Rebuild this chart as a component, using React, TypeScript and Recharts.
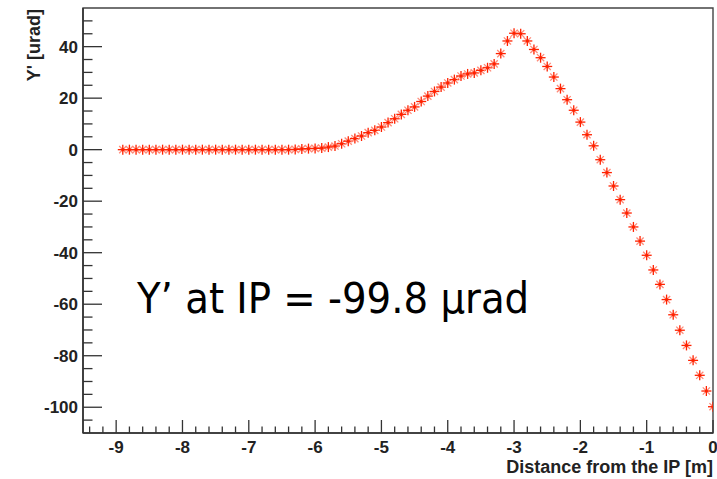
import React from 'react';
import { ScatterChart, Scatter, XAxis, YAxis, ReferenceArea } from 'recharts';

// distance from the interaction point [m]
const distance = [
  -8.9, -8.8, -8.7, -8.6, -8.5, -8.4, -8.3, -8.2, -8.1, -8.0,
  -7.9, -7.8, -7.7, -7.6, -7.5, -7.4, -7.3, -7.2, -7.1, -7.0,
  -6.9, -6.8, -6.7, -6.6, -6.5, -6.4, -6.3, -6.2, -6.1, -6.0,
  -5.9, -5.8, -5.7, -5.6, -5.5, -5.4, -5.3, -5.2, -5.1, -5.0,
  -4.9, -4.8, -4.7, -4.6, -4.5, -4.4, -4.3, -4.2, -4.1, -4.0,
  -3.9, -3.8, -3.7, -3.6, -3.5, -3.4, -3.3, -3.2, -3.1, -3.0,
  -2.9, -2.8, -2.7, -2.6, -2.5, -2.4, -2.3, -2.2, -2.1, -2.0,
  -1.9, -1.8, -1.7, -1.6, -1.5, -1.4, -1.3, -1.2, -1.1, -1.0,
  -0.9, -0.8, -0.7, -0.6, -0.5, -0.4, -0.3, -0.2, -0.1, 0,
];

// Y' angle [urad]
const yPrime = [
  0, 0, 0, 0, 0, 0, 0, 0, 0, 0,
  0, 0, 0, 0, 0, 0, 0, 0, 0, 0,
  0, 0, 0, 0, 0, 0, 0.1, 0.3, 0.4, 0.5,
  0.6, 1.0, 1.4, 2.3, 3.3, 4.3, 5.3, 6.6, 7.5, 8.8,
  10.5, 12.0, 13.7, 15.3, 16.6, 18.7, 20.8, 22.6, 24.3, 25.9,
  27.2, 28.6, 29.4, 29.8, 30.8, 31.8, 33.3, 37.3, 42.2, 45.2,
  45.0, 42.2, 38.9, 35.7, 32.3, 28.2, 23.7, 19.4, 15.3, 10.7,
  5.8, 1.5, -3.9, -8.9, -14.1, -19.4, -24.6, -30.0, -35.5, -41.0,
  -46.7, -52.3, -58.2, -64.1, -70.1, -76.0, -81.8, -87.6, -93.7, -99.8,
];

const xMajorTicks = [-9, -8, -7, -6, -5, -4, -3, -2, -1, 0];
const yMajorTicks = [-100, -80, -60, -40, -20, 0, 20, 40];

const X_MIN = -9.5;
const X_MAX = 0;
const Y_MIN = -110;
const Y_MAX = 55;

// minor ticks every 0.2 m and every 5 urad
const xTicks: number[] = [];
for (let v = -94; v <= 0; v += 2) xTicks.push(v / 10);
const yTicks: number[] = [];
for (let v = -105; v <= 50; v += 5) yTicks.push(v);

const data = distance.map((d, i) => ({ d, y: yPrime[i] }));

const AXIS = '#333';
const MARK = '#ff2200';
const LABEL_FONT = '"Liberation Sans", Arial, Helvetica, sans-serif';

const XTick = (props: any) => {
  const { x, y, payload } = props;
  const major = xMajorTicks.includes(payload.value);
  return (
    <g>
      <line x1={x} x2={x} y1={y} y2={y - (major ? 13 : 6.5)} stroke={AXIS} strokeWidth={1.3} />
      {major && (
        <text x={x} y={y + 20} textAnchor="middle" fontFamily={LABEL_FONT} fontWeight="bold" fontSize={17} fill="#222">
          {payload.value}
        </text>
      )}
    </g>
  );
};

const YTick = (props: any) => {
  const { x, y, payload } = props;
  const major = yMajorTicks.includes(payload.value);
  return (
    <g>
      <line x1={x} x2={x + (major ? 19 : 9.5)} y1={y} y2={y} stroke={AXIS} strokeWidth={1.3} />
      {major && (
        <text x={x - 5} y={y + 6} textAnchor="end" fontFamily={LABEL_FONT} fontWeight="bold" fontSize={17} fill="#222">
          {payload.value}
        </text>
      )}
    </g>
  );
};

// ROOT-style asterisk marker
const Star = (props: any) => {
  const { cx, cy } = props;
  const r = 5;
  const d = 3.6;
  return (
    <g>
      <line x1={cx - d} y1={cy - d} x2={cx + d} y2={cy + d} stroke="#ff8a78" strokeWidth={1.3} />
      <line x1={cx - d} y1={cy + d} x2={cx + d} y2={cy - d} stroke="#ff8a78" strokeWidth={1.3} />
      <line x1={cx - r} y1={cy} x2={cx + r} y2={cy} stroke={MARK} strokeWidth={1.3} />
      <line x1={cx} y1={cy - r} x2={cx} y2={cy + r} stroke={MARK} strokeWidth={1.3} />
      <circle cx={cx} cy={cy} r={1.6} fill={MARK} />
    </g>
  );
};

export default function App() {
  return (
    <div style={{ position: 'absolute', left: 0, top: 0, background: '#fff' }}>
      <ScatterChart width={717} height={479} margin={{ top: 8, right: 4, left: 0, bottom: 0 }}>
        <XAxis
          type="number"
          dataKey="d"
          domain={[X_MIN, X_MAX]}
          ticks={xTicks}
          interval={0}
          allowDataOverflow
          height={46}
          tickSize={0}
          tickMargin={0}
          tickLine={false}
          tick={<XTick />}
          axisLine={{ stroke: AXIS, strokeWidth: 1.6 }}
        />
        <YAxis
          type="number"
          dataKey="y"
          domain={[Y_MIN, Y_MAX]}
          ticks={yTicks}
          interval={0}
          allowDataOverflow
          width={83}
          tickSize={0}
          tickMargin={0}
          tickLine={false}
          tick={<YTick />}
          axisLine={{ stroke: AXIS, strokeWidth: 1.6 }}
        />
        <ReferenceArea
          x1={X_MIN}
          x2={X_MAX}
          y1={Y_MIN}
          y2={Y_MAX}
          fill="none"
          fillOpacity={0}
          stroke="#444"
          strokeWidth={1.4}
          ifOverflow="visible"
        />
        <Scatter data={data} shape={<Star />} isAnimationActive={false} />
        <text
          x={713}
          y={473}
          textAnchor="end"
          fontFamily={LABEL_FONT}
          fontWeight="bold"
          fontSize={18}
          fill="#222"
        >
          Distance from the IP [m]
        </text>
        <text
          x={-9}
          y={40}
          transform="rotate(-90)"
          textAnchor="end"
          fontFamily={LABEL_FONT}
          fontWeight="bold"
          fontSize={18}
          fill="#222"
        >
          Y' [urad]
        </text>
        <text
          x={137}
          y={313}
          fontFamily='"DejaVu Sans Condensed", "DejaVu Sans", Tahoma, sans-serif'
          fontSize={43}
          fill="#000"
        >
          Y’ at IP = -99.8 μrad
        </text>
      </ScatterChart>
    </div>
  );
}
